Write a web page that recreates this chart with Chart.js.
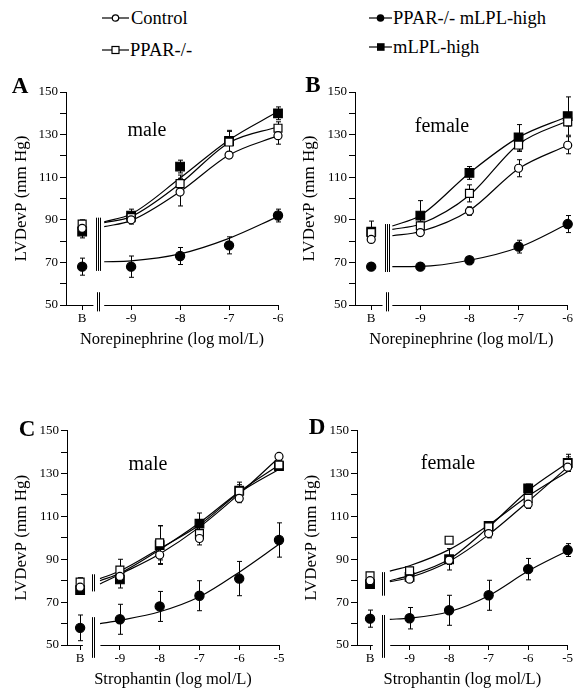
<!DOCTYPE html>
<html>
<head>
<meta charset="utf-8">
<script src="https://cdn.jsdelivr.net/npm/chart.js@4.4.1/dist/chart.umd.min.js"></script>
<style>
  body { margin: 0; background: #fff; width: 575px; height: 698px; position: relative; overflow: hidden;
         font-family: 'Liberation Serif', 'Times New Roman', serif; color: #000; }
  canvas { position: absolute; }
  .t { position: absolute; white-space: nowrap; line-height: 1; transform: translate(0, -50%); }
  .c { position: absolute; white-space: nowrap; line-height: 1; transform: translate(-50%, -50%); }
  .letter { font-weight: bold; font-size: 23px; }
  .sex { font-size: 20px; }
  .leg { font-size: 18.5px; }
  svg { position: absolute; overflow: visible; }
</style>
</head>
<body>

<!-- legend -->
<svg style="left:102px;top:18px" width="28" height="1"><line x1="0" y1="0" x2="27" y2="0" stroke="#000" stroke-width="1.2"/><circle cx="13.5" cy="0" r="3.2" fill="#fff" stroke="#000" stroke-width="1.2"/></svg>
<div class="t leg" style="left:131px;top:18px">Control</div>
<svg style="left:102px;top:50px" width="28" height="1"><line x1="0" y1="0" x2="27" y2="0" stroke="#000" stroke-width="1.2"/><rect x="10" y="-3.5" width="7" height="7" fill="#fff" stroke="#000" stroke-width="1.2"/></svg>
<div class="t leg" style="left:130px;top:50px">PPAR-/-</div>
<svg style="left:369px;top:18px" width="24" height="1"><line x1="0" y1="0" x2="23" y2="0" stroke="#000" stroke-width="1.2"/><circle cx="11.5" cy="0" r="3.8" fill="#000"/></svg>
<div class="t leg" style="left:393px;top:18px">PPAR-/- mLPL-high</div>
<svg style="left:369px;top:47px" width="24" height="1"><line x1="0" y1="0" x2="23" y2="0" stroke="#000" stroke-width="1.2"/><rect x="8" y="-3.8" width="7.6" height="7.6" fill="#000"/></svg>
<div class="t leg" style="left:393px;top:47px">mLPL-high</div>

<canvas id="chartA" width="290" height="300" style="left:0;top:60px"></canvas>
<canvas id="chartB" width="285" height="300" style="left:290px;top:60px"></canvas>
<canvas id="chartC" width="290" height="298" style="left:0;top:400px"></canvas>
<canvas id="chartD" width="285" height="298" style="left:290px;top:400px"></canvas>

<div class="c letter" style="left:20px;top:85px">A</div>
<div class="c letter" style="left:313px;top:84px">B</div>
<div class="c letter" style="left:27px;top:428px">C</div>
<div class="c letter" style="left:317px;top:426px">D</div>
<div class="c sex" style="left:147px;top:129px">male</div>
<div class="c sex" style="left:442px;top:125px">female</div>
<div class="c sex" style="left:148px;top:463px">male</div>
<div class="c sex" style="left:448px;top:462px">female</div>

<script>
const FONT = "'Liberation Serif', 'Times New Roman', serif";

// dose positions, -10 is the baseline "B"
const noreDoses = [-10, -9, -8, -7, -6];
const stroDoses = [-10, -9, -8, -7, -6, -5];
const noreFitX = [-9.55, -9, -8, -7, -6];
const stroFitX = [-9.5, -9, -8, -7, -6, -5];

// A: male, norepinephrine
const aControl = [86, 90, 103, 120.4, 129.5];
const aControlErr = [2, 2, 6.5, 1.5, 4];
const aPpar = [88, 91, 107, 126.5, 133];
const aPparErr = [2, 2, 4, 5, 3];
const aDouble = [68, 68, 73, 78, 92];
const aDoubleErr = [4, 5, 4, 4, 3];
const aMlpl = [84.5, 92, 115, 127, 140];
const aMlplErr = [3, 3, 3, 5, 3];
const aControlFit = [86.8, 89.6, 103.2, 120.4, 129.5];
const aPparFit = [88.6, 91.5, 107, 126.2, 133.7];
const aDoubleFit = [70.3, 70.7, 74, 81.3, 91.5];
const aMlplFit = [89.1, 92.7, 109.6, 127.5, 140.8];

// B: female, norepinephrine
const bControl = [80.8, 84, 94.1, 114.2, 125];
const bControlErr = [1.5, 1.5, 2, 4, 4];
const bPpar = [84, 87.2, 102.4, 125.1, 136];
const bPparErr = [2, 2, 4, 3, 2];
const bDouble = [68, 68, 71, 77.4, 88];
const bDoubleErr = [1.5, 1.5, 1.5, 3, 4];
const bMlpl = [84.4, 92, 112, 128.7, 138.7];
const bMlplErr = [5, 7, 3, 6, 9];
const bControlFit = [82.5, 84.5, 94.4, 114, 125];
const bPparFit = [85.5, 88, 101.5, 125.5, 136.5];
const bDoubleFit = [68, 68.1, 71, 77, 88];
const bMlplFit = [87.1, 92, 112, 128.7, 138.5];

// C: male, strophantin
const cControl = [77, 82, 92, 99.7, 118.4, 138];
const cControlErr = [2, 3, 4, 3, 2, 1];
const cPpar = [79.4, 85, 97.7, 102, 121.8, 134];
const cPparErr = [2, 5, 8, 3, 3, 2];
const cDouble = [58, 62, 68, 73, 81, 99];
const cDoubleErr = [6, 7, 7, 7, 8, 8];
const cMlpl = [75.6, 80.6, 96.6, 106.6, 122, 133.5];
const cMlplErr = [2, 4, 9, 5, 4, 2];
const cControlFit = [78.5, 83, 92.5, 105, 120.5, 137.5];
const cPparFit = [81, 84.5, 95, 106, 121, 132];
const cDoubleFit = [60, 61.5, 65.5, 72.5, 84, 97];
const cMlplFit = [80, 83.5, 94.5, 107, 121.5, 134];

// D: female, strophantin
const dControl = [80, 80.7, 89.6, 102, 115.7, 133];
const dControlErr = [1, 1.5, 2, 2, 2, 2];
const dPpar = [82.3, 84.6, 98.9, 105.1, 118.4, 134.8];
const dPparErr = [1, 1.5, 1.5, 2, 2, 3];
const dDouble = [62.3, 62.5, 66.2, 73.2, 85.4, 94.3];
const dDoubleErr = [4, 5, 7, 7, 5, 3];
const dMlpl = [78.4, 81.8, 90, 105.6, 123.1, 135];
const dMlplErr = [1.5, 2, 5, 2, 2, 4];
const dControlFit = [79.5, 81.5, 89, 101.5, 117, 133];
const dPparFit = [84.5, 87, 94.5, 106, 119.5, 131];
const dDoubleFit = [62, 62.5, 65.5, 73, 84.5, 94];
const dMlplFit = [80, 82.5, 90, 105, 122, 135];

const groups = ['Control', 'PPAR-/-', 'PPAR-/- mLPL-high', 'mLPL-high'];
const markers = [
  { pointStyle: 'circle', pointRadius: 4, backgroundColor: '#fff' },
  { pointStyle: 'rect', pointRadius: 5.6, backgroundColor: '#fff' },
  { pointStyle: 'circle', pointRadius: 4.6, backgroundColor: '#000' },
  { pointStyle: 'rect', pointRadius: 6.1, backgroundColor: '#000' }
];

const pts = (xs, ys) => xs.map((x, i) => ({ x: x, y: ys[i] }));

// broken x axis, break marks and error bars
const panelDecor = {
  id: 'panelDecor',
  beforeDatasetsDraw(chart, args, opts) {
    const ctx = chart.ctx;
    const xs = chart.scales.x, ys = chart.scales.y;
    ctx.save();
    ctx.strokeStyle = '#000';
    ctx.lineWidth = 1;
    const y0 = Math.round(ys.getPixelForValue(50)) + 0.5;
    ctx.beginPath();
    ctx.moveTo(xs.left, y0);
    ctx.lineTo(xs.getPixelForValue(opts.gap[0]), y0);
    ctx.moveTo(xs.getPixelForValue(opts.gap[1]), y0);
    ctx.lineTo(xs.right, y0);
    ctx.stroke();

    const bx = xs.getPixelForValue(opts.breakX);
    opts.marks.forEach(m => {
      for (let k = 0; k < m[2]; k++) {
        const x = Math.round(bx + (k - (m[2] - 1) / 2) * 2.2) + 0.5;
        ctx.beginPath();
        ctx.moveTo(x, ys.getPixelForValue(m[0]));
        ctx.lineTo(x, ys.getPixelForValue(m[1]));
        ctx.stroke();
      }
    });

    chart.data.datasets.forEach(ds => {
      if (!ds.errors) return;
      ds.data.forEach((p, j) => {
        const e = ds.errors[j];
        const x = Math.round(xs.getPixelForValue(p.x)) + 0.5;
        const yt = ys.getPixelForValue(p.y + e);
        const yb = ys.getPixelForValue(p.y - e);
        ctx.beginPath();
        ctx.moveTo(x, yt); ctx.lineTo(x, yb);
        ctx.moveTo(x - 2.5, yt); ctx.lineTo(x + 2.5, yt);
        ctx.moveTo(x - 2.5, yb); ctx.lineTo(x + 2.5, yb);
        ctx.stroke();
      });
    });
    ctx.restore();
  }
};

function makePanel(id, cfg) {
  const datasets = [];
  cfg.values.forEach((vals, g) => {
    datasets.push(Object.assign({
      label: groups[g],
      data: pts(cfg.doses, vals),
      errors: cfg.errs[g],
      showLine: false,
      borderColor: '#000',
      borderWidth: 1.2,
      pointHoverRadius: 0,
      clip: false,
      order: 0
    }, markers[g]));
  });
  cfg.fits.forEach((vals, g) => {
    datasets.push({
      label: groups[g] + ' fit',
      data: pts(cfg.fitX, vals),
      borderColor: '#000',
      borderWidth: 1.2,
      pointRadius: 0,
      cubicInterpolationMode: 'monotone',
      fill: false,
      clip: false,
      order: 1
    });
  });

  new Chart(document.getElementById(id), {
    type: 'line',
    data: { datasets: datasets },
    options: {
      responsive: false,
      animation: false,
      events: [],
      layout: { padding: { left: 0, top: cfg.padTop, right: cfg.padRight, bottom: 0 } },
      plugins: {
        legend: { display: false },
        tooltip: { enabled: false },
        panelDecor: { gap: cfg.gap, breakX: -9.68, marks: cfg.marks }
      },
      scales: {
        x: {
          type: 'linear',
          min: -10.33,
          max: cfg.xMax,
          afterBuildTicks(s) { s.ticks = cfg.doses.map(v => ({ value: v })); },
          afterFit(s) { s.height = cfg.xHeight; },
          ticks: {
            autoSkip: false, maxRotation: 0, padding: 1, color: '#000',
            font: { family: FONT, size: 13 },
            callback: v => (v === -10 ? 'B' : String(v))
          },
          grid: { drawOnChartArea: false, color: '#000', tickLength: 5 },
          border: { display: false },
          title: {
            display: true, text: cfg.xTitle, color: '#000',
            font: { family: FONT, size: 16.5 },
            padding: { top: 0, bottom: cfg.xTitlePad }
          }
        },
        y: {
          min: 50,
          max: 150,
          afterFit(s) { s.width = cfg.yWidth; },
          ticks: {
            stepSize: 10, autoSkip: false, padding: 2, color: '#000',
            font: { family: FONT, size: 13 },
            callback: v => ((v - 50) % 20 === 0 ? v : '')
          },
          grid: { drawOnChartArea: false, color: '#000', tickLength: 6 },
          border: { color: '#000', width: 1 },
          title: {
            display: true, text: 'LVDevP (mm Hg)', color: '#000',
            font: { family: FONT, size: 17 },
            padding: { top: cfg.yTitlePad, bottom: 0 }
          }
        }
      }
    },
    plugins: [panelDecor]
  });
}

makePanel('chartA', {
  doses: noreDoses, fitX: noreFitX, xMax: -6, xTitle: 'Norepinephrine (log mol/L)',
  values: [aControl, aPpar, aDouble, aMlpl], errs: [aControlErr, aPparErr, aDoubleErr, aMlplErr],
  fits: [aControlFit, aPparFit, aDoubleFit, aMlplFit],
  padTop: 32, padRight: 12, yWidth: 66, xHeight: 55, xTitlePad: 10, yTitlePad: 11.8,
  gap: [-9.77, -9.55], marks: [[91, 66, 3], [56, 47, 2]]
});
makePanel('chartB', {
  doses: noreDoses, fitX: [-9.57, -9, -8, -7, -6], xMax: -6, xTitle: 'Norepinephrine (log mol/L)',
  values: [bControl, bPpar, bDouble, bMlpl], errs: [bControlErr, bPparErr, bDoubleErr, bMlplErr],
  fits: [bControlFit, bPparFit, bDoubleFit, bMlplFit],
  padTop: 32, padRight: 7, yWidth: 65, xHeight: 55, xTitlePad: 10, yTitlePad: 9.8,
  gap: [-9.77, -9.57], marks: [[88, 65.5, 3], [56, 47, 2]]
});
makePanel('chartC', {
  doses: stroDoses, fitX: stroFitX, xMax: -5, xTitle: 'Strophantin (log mol/L)',
  values: [cControl, cPpar, cDouble, cMlpl], errs: [cControlErr, cPparErr, cDoubleErr, cMlplErr],
  fits: [cControlFit, cPparFit, cDoubleFit, cMlplFit],
  padTop: 30.7, padRight: 11, yWidth: 67, xHeight: 53, xTitlePad: 8, yTitlePad: 11.8,
  gap: [-9.93, -9.49], marks: [[83, 75, 2], [63, 44, 2]]
});
makePanel('chartD', {
  doses: stroDoses, fitX: stroFitX, xMax: -5, xTitle: 'Strophantin (log mol/L)',
  values: [dControl, dPpar, dDouble, dMlpl], errs: [dControlErr, dPparErr, dDoubleErr, dMlplErr],
  fits: [dControlFit, dPparFit, dDoubleFit, dMlplFit],
  padTop: 30.7, padRight: 7, yWidth: 67, xHeight: 53, xTitlePad: 8, yTitlePad: 11.8,
  gap: [-9.93, -9.49], marks: [[84, 73, 2], [64, 44, 2]]
});
</script>
</body>
</html>
